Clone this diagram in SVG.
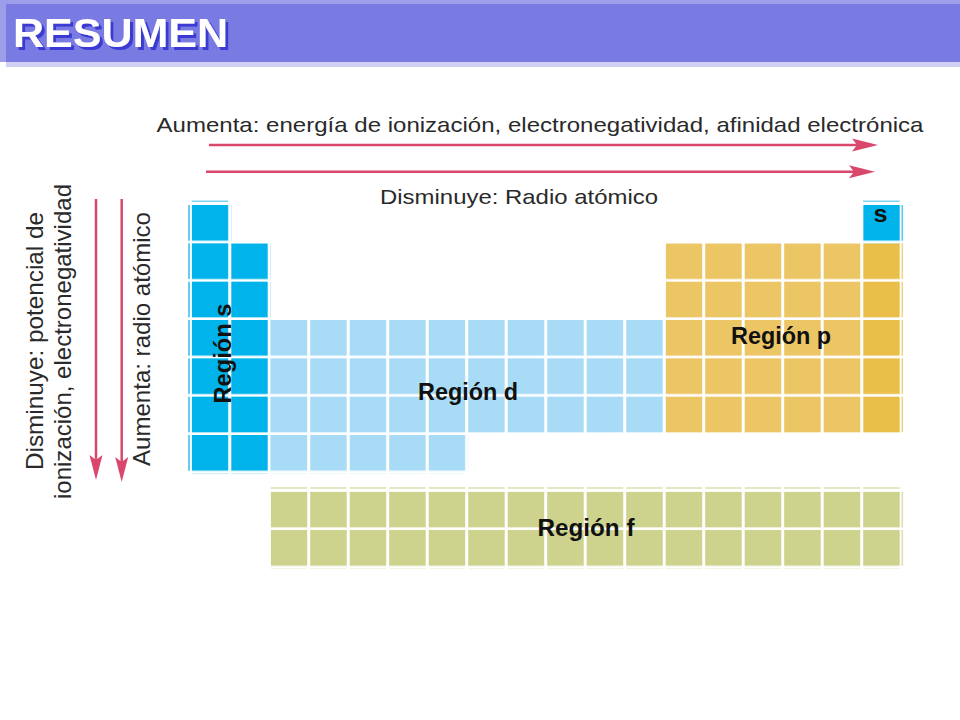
<svg xmlns="http://www.w3.org/2000/svg" width="960" height="720" viewBox="0 0 960 720">
<style>
.t{font-family:"Liberation Sans",Arial,sans-serif;fill:#2a2a2a;font-size:24px}
.h{font-family:"Liberation Sans",Arial,sans-serif;fill:#2a2a2a;font-size:21px}
.r{font-family:"Liberation Sans",Arial,sans-serif;font-weight:bold;fill:#111;font-size:23px}
.arr{stroke:#d9476c;stroke-width:2.5;fill:none}
.ah{fill:#d9476c}
</style>
<defs>
<filter id="sh" x="-5%" y="-20%" width="115%" height="150%"><feDropShadow dx="3" dy="3" stdDeviation="0" flood-color="#3b3bd3" flood-opacity="1"/></filter>
<pattern id="pS" x="191.7" y="205" width="39.5" height="38.333" patternUnits="userSpaceOnUse"><rect width="36.5" height="35.7" fill="#00b3eb"/></pattern>
<pattern id="pD" x="191.7" y="205" width="39.5" height="38.333" patternUnits="userSpaceOnUse"><rect width="36.5" height="35.7" fill="#a8dcf6"/></pattern>
<pattern id="pP" x="191.7" y="205" width="39.5" height="38.333" patternUnits="userSpaceOnUse"><rect width="36.5" height="35.7" fill="#ecc565"/></pattern>
<pattern id="pP2" x="191.7" y="205" width="39.5" height="38.333" patternUnits="userSpaceOnUse"><rect width="36.5" height="35.7" fill="#e9bf4a"/></pattern>
<pattern id="pF" x="191.7" y="491.7" width="39.5" height="38.333" patternUnits="userSpaceOnUse"><rect width="36.5" height="35.7" fill="#cdd28d"/></pattern>
</defs>
<rect width="960" height="720" fill="#fff"/>
<g id="title">
<rect x="0" y="0" width="960" height="62" fill="#9d9eea"/>
<rect x="6" y="4" width="954" height="58" fill="#797be2"/>
<rect x="6" y="62" width="954" height="5" fill="#cfd0f4"/>
<text x="13" y="47" font-family="Liberation Sans,Arial,sans-serif" font-weight="bold" font-size="40" fill="#fff" filter="url(#sh)" textLength="215" lengthAdjust="spacingAndGlyphs">RESUMEN</text>
</g>
<g id="region-s">
<rect x="191.7" y="205" width="39.5" height="268.3" fill="url(#pS)"/>
<rect x="231.2" y="243.3" width="39.5" height="230" fill="url(#pS)"/>
<rect x="863.2" y="205" width="39.5" height="38.3" fill="url(#pS)"/>
<line x1="189" y1="205" x2="189" y2="471" stroke="#3cc0ee" stroke-width="1.6" stroke-dasharray="35.7 2.633"/>
<line x1="191.7" y1="201.3" x2="228.2" y2="201.3" stroke="#7fd0f2" stroke-width="1.5"/>
<line x1="863.2" y1="201.3" x2="899.7" y2="201.3" stroke="#7fd0f2" stroke-width="1.5"/>
<line x1="902.3" y1="205" x2="902.3" y2="240.7" stroke="#5cc8f0" stroke-width="1.6"/>
<text class="r" transform="translate(231,403.5) rotate(-90)" font-size="20" textLength="100" lengthAdjust="spacingAndGlyphs">Región s</text>
<text class="r" x="880.5" y="222" font-size="27" text-anchor="middle" textLength="14" lengthAdjust="spacingAndGlyphs">s</text>
</g>
<g id="region-d">
<rect x="270.7" y="320" width="395" height="115" fill="url(#pD)"/>
<rect x="270.7" y="435" width="197.5" height="38.3" fill="url(#pD)"/>
<text class="r" x="418" y="400" textLength="100" lengthAdjust="spacingAndGlyphs">Región d</text>
</g>
<g id="region-p">
<rect x="665.7" y="243.3" width="197.5" height="191.7" fill="url(#pP)"/>
<rect x="863.2" y="243.3" width="39.5" height="191.7" fill="url(#pP2)"/>
<line x1="902.3" y1="243.3" x2="902.3" y2="432" stroke="#f0d588" stroke-width="1.6" stroke-dasharray="35.7 2.633"/>
<text class="r" x="731" y="344" textLength="100" lengthAdjust="spacingAndGlyphs">Región p</text>
</g>
<g id="region-f">
<rect x="270.7" y="491.7" width="632" height="76.7" fill="url(#pF)"/>
<line x1="270.7" y1="488" x2="903" y2="488" stroke="#dde0b0" stroke-width="1.5" stroke-dasharray="36.5 3"/>
<line x1="902.3" y1="491.7" x2="902.3" y2="565.7" stroke="#dde0b0" stroke-width="1.6" stroke-dasharray="35.7 2.633"/>
<text class="r" x="537.5" y="535.5" textLength="97" lengthAdjust="spacingAndGlyphs">Región f</text>
</g>
<g id="connectors">
<line class="arr" x1="209" y1="145" x2="860" y2="145"/>
<path class="ah" d="M878,145 L852,138.5 L857,145 L852,151.5 Z"/>
<line class="arr" x1="206" y1="171.7" x2="857" y2="171.7"/>
<path class="ah" d="M875,171.7 L849,165.2 L854,171.7 L849,178.2 Z"/>
<line class="arr" x1="96" y1="199" x2="96" y2="462"/>
<path class="ah" d="M96,480 L89.5,455 L96,460 L102.5,455 Z"/>
<line class="arr" x1="121.7" y1="199" x2="121.7" y2="464"/>
<path class="ah" d="M121.7,482 L115.2,457 L121.7,462 L128.2,457 Z"/>
</g>
<g id="labels">
<text class="h" x="156.5" y="131.5" textLength="767" lengthAdjust="spacingAndGlyphs">Aumenta: energía de ionización, electronegatividad, afinidad electrónica</text>
<text class="h" x="380" y="203.5" textLength="278" lengthAdjust="spacingAndGlyphs">Disminuye: Radio atómico</text>
<text class="t" transform="translate(43,470) rotate(-90)" textLength="258" lengthAdjust="spacingAndGlyphs">Disminuye: potencial de</text>
<text class="t" transform="translate(71,499) rotate(-90)" textLength="315" lengthAdjust="spacingAndGlyphs">ionización, electronegatividad</text>
<text class="t" transform="translate(150,466) rotate(-90)" textLength="254" lengthAdjust="spacingAndGlyphs">Aumenta: radio atómico</text>
</g>
</svg>
